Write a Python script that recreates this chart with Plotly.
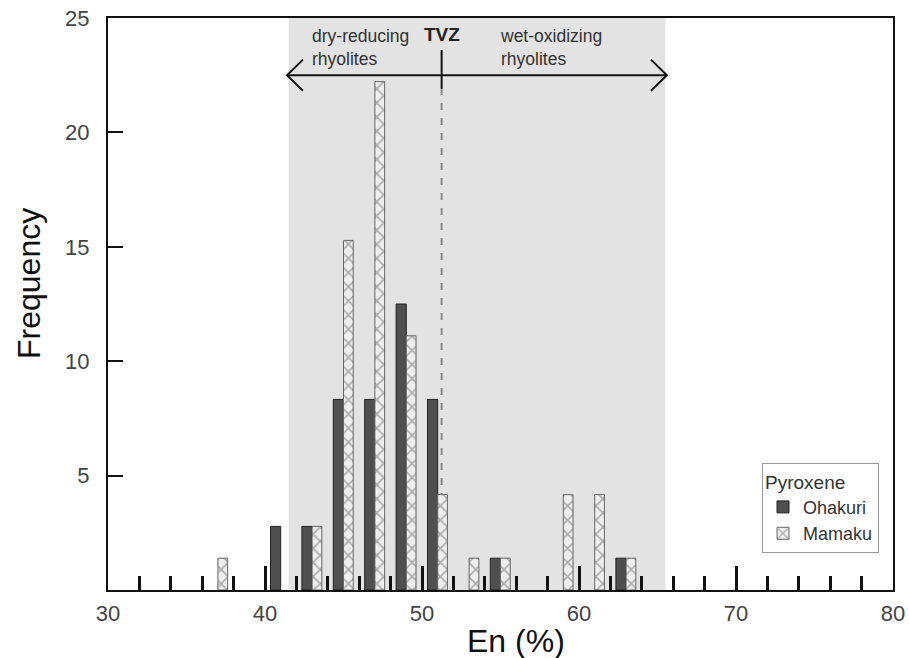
import plotly.graph_objects as go

# ---- data ----
ohakuri_x = [41, 43, 45, 47, 49, 51, 55, 63]
ohakuri_y = [2.78, 2.78, 8.33, 8.33, 12.5, 8.33, 1.39, 1.39]
mamaku_x = [37, 43, 45, 47, 49, 51, 53, 55, 59, 61, 63]
mamaku_y = [1.39, 2.78, 15.28, 22.22, 11.11, 4.17, 1.39, 1.39, 4.17, 4.17, 1.39]

x_ticks = [30, 40, 50, 60, 70, 80]
y_ticks = [5, 10, 15, 20, 25]

shade_range = [41.5, 65.5]     # dry-reducing .. wet-oxidizing field
tvz_x = 51.25                  # TVZ boundary
arrow_y = 22.5

FONT = "Liberation Sans, Arial, Helvetica, sans-serif"

fig = go.Figure()

fig.add_trace(go.Bar(
    x=ohakuri_x, y=ohakuri_y, name="Ohakuri",
    width=0.65, offset=-0.65,
    marker=dict(color="#4f4f4f", line=dict(color="#222222", width=1)),
))
fig.add_trace(go.Bar(
    x=mamaku_x, y=mamaku_y, name="Mamaku",
    width=0.62, offset=0.0,
    marker=dict(color="#eeeeee",
                line=dict(color="#666666", width=1),
                pattern=dict(shape="x", fgcolor="#666666", bgcolor="#eeeeee",
                             size=10, solidity=0.28)),
))

shapes = [
    dict(type="rect", xref="x", yref="paper", x0=shade_range[0], x1=shade_range[1],
         y0=0, y1=1, fillcolor="#e3e3e3", line=dict(width=0), layer="below"),
    dict(type="line", xref="x", yref="y", x0=tvz_x, x1=tvz_x, y0=0, y1=21.9,
         line=dict(color="#888888", width=2, dash="7px,8px"), layer="below"),
    dict(type="line", xref="x", yref="y", x0=tvz_x, x1=tvz_x, y0=21.9, y1=23.6,
         line=dict(color="#111111", width=2)),
    dict(type="line", xref="x", yref="y", x0=41.4, x1=65.6, y0=arrow_y, y1=arrow_y,
         line=dict(color="#111111", width=2)),
    dict(type="path", xref="x", yref="y",
         path=f"M {41.4+1.02},{arrow_y+0.68} L 41.4,{arrow_y} L {41.4+1.02},{arrow_y-0.68}",
         line=dict(color="#111111", width=2)),
    dict(type="path", xref="x", yref="y",
         path=f"M {65.6-1.02},{arrow_y+0.68} L 65.6,{arrow_y} L {65.6-1.02},{arrow_y-0.68}",
         line=dict(color="#111111", width=2)),
]

annotations = [
    dict(x=tvz_x, y=24.3, xref="x", yref="y", text="<b>TVZ</b>", showarrow=False,
         font=dict(size=19, color="#222222", family=FONT), xanchor="center", yanchor="middle"),
    dict(x=42.85, y=23.7, xref="x", yref="y", text="dry-reducing<br>rhyolites",
         showarrow=False, align="left", xanchor="left", yanchor="middle",
         font=dict(size=17.5, color="#333333", family=FONT)),
    dict(x=54.85, y=23.7, xref="x", yref="y", text="wet-oxidizing<br>rhyolites",
         showarrow=False, align="left", xanchor="left", yanchor="middle",
         font=dict(size=17.5, color="#333333", family=FONT)),
    dict(x=(516 - 108) / 785, y=-(641 - 590) / 572, xref="paper", yref="paper",
         text="En (%)", showarrow=False, xanchor="center", yanchor="middle",
         font=dict(size=32, color="#111111", family=FONT)),
    dict(x=(29 - 108) / 785, y=(590 - 284) / 572, xref="paper", yref="paper",
         text="Frequency", showarrow=False, textangle=-90, xanchor="center", yanchor="middle",
         font=dict(size=32, color="#111111", family=FONT)),
]

fig.update_layout(
    width=909, height=658,
    margin=dict(l=108, r=16, t=18, b=68, autoexpand=False),
    paper_bgcolor="white", plot_bgcolor="white",
    barmode="overlay",
    font=dict(family=FONT, color="#333333"),
    shapes=shapes, annotations=annotations,
    showlegend=True,
    legend=dict(
        x=(762 - 108) / 785, y=(590 - 463) / 572, xanchor="left", yanchor="top",
        bgcolor="white", bordercolor="#999999", borderwidth=1,
        title=dict(text="Pyroxene", font=dict(size=19, color="#333333", family=FONT)),
        font=dict(size=18, color="#333333", family=FONT),
        traceorder="normal", itemwidth=30, tracegroupgap=0,
    ),
)

fig.update_xaxes(
    range=[30, 80], tickvals=x_ticks, ticktext=[str(v) for v in x_ticks],
    ticks="inside", ticklen=24, tickwidth=2.5, tickcolor="#111111",
    minor=dict(ticks="inside", ticklen=14, tickwidth=2.5, tickcolor="#111111",
               tick0=30, dtick=2),
    showline=True, linecolor="#111111", linewidth=2, mirror=True,
    showgrid=False, zeroline=False, automargin=False,
    tickfont=dict(size=22, color="#444444", family=FONT),
    ticklabelstandoff=3,
)
fig.update_yaxes(
    range=[0, 25], tickvals=y_ticks, ticktext=[str(v) for v in y_ticks],
    ticks="inside", ticklen=15, tickwidth=2, tickcolor="#111111",
    showline=True, linecolor="#111111", linewidth=2, mirror=True,
    showgrid=False, zeroline=False, automargin=False,
    tickfont=dict(size=22, color="#444444", family=FONT),
    ticklabelstandoff=12,
)

fig.write_html("out.html")
